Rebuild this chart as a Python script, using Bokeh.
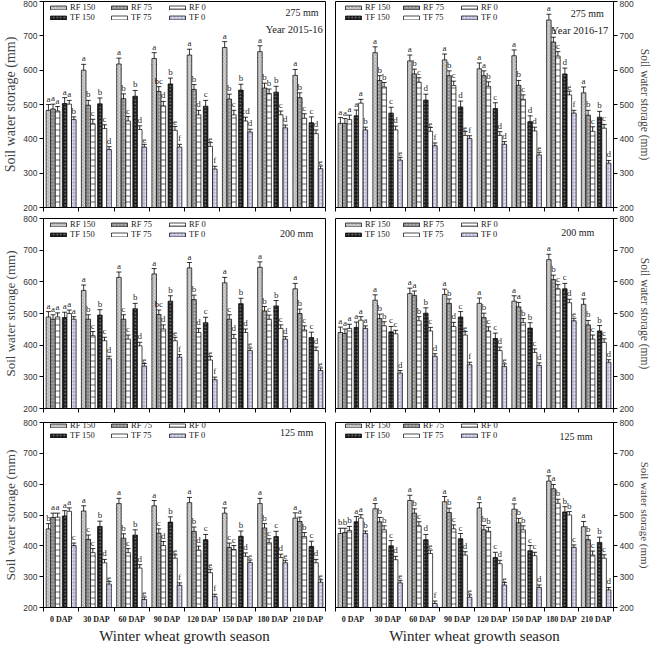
import numpy as np
from bokeh.plotting import figure
from bokeh.models import (ColumnDataSource, Range1d, FixedTicker, Whisker, TeeHead,
                          Legend, LegendItem, Label, LabelSet)
from bokeh.layouts import column, row
from bokeh.transform import dodge
from bokeh.embed import file_html
from bokeh.resources import INLINE

# ---------------- data ----------------
dap = ["0 DAP", "30 DAP", "60 DAP", "90 DAP", "120 DAP", "150 DAP", "180 DAP", "210 DAP"]
series = ["RF 150", "RF 75", "RF 0", "TF 150", "TF 75", "TF 0"]
err = [17, 14, 13, 17, 11, 8]          # typical standard error per treatment (mm)

# rows = growth stage, columns = treatments (RF150, RF75, RF0, TF150, TF75, TF0)
swc_275_1516 = [[483, 487, 481, 503, 501, 456],
                [600, 498, 444, 502, 430, 369],
                [618, 517, 452, 524, 427, 376],
                [634, 538, 496, 560, 425, 376],
                [644, 544, 470, 495, 378, 312],
                [666, 516, 470, 542, 452, 420],
                [654, 548, 532, 536, 470, 432],
                [585, 520, 460, 447, 415, 313]]
let_275_1516 = ["a a a a a b", "a b c b c d", "a b c b d e", "a bc d b e f",
                "a b d c e f", "a b c b cd d", "a b b b c d", "a b c c d e"]

swc_275_1617 = [[445, 445, 456, 467, 504, 426],
                [651, 570, 551, 475, 426, 338],
                [627, 589, 565, 513, 422, 380],
                [630, 584, 555, 493, 410, 401],
                [604, 584, 553, 488, 410, 384],
                [642, 556, 515, 450, 423, 353],
                [746, 682, 641, 589, 528, 475],
                [534, 469, 422, 463, 431, 329]]
let_275_1617 = ["a a a a a b", "a b b c d e", "a b c d e f", "a b c d e f",
                "a a b c d d", "a b c d d e", "a b c d e f", "a b c b c d"]

swc_200_1516 = [[489, 482, 489, 487, 500, 482],
                [573, 482, 430, 495, 414, 357],
                [614, 482, 419, 515, 398, 334],
                [625, 497, 451, 539, 414, 362],
                [644, 544, 440, 471, 353, 291],
                [597, 482, 421, 531, 440, 383],
                [646, 508, 482, 524, 453, 419],
                [578, 500, 448, 424, 383, 320]]
let_200_1516 = ["a a a a a a", "a b c b c d", "a c c b d e", "a bc d b e f",
                "a b d c e f", "a c d b d e", "a b c b c d", "a b c c d e"]

swc_200_1617 = [[440, 437, 453, 456, 479, 453],
                [542, 484, 461, 442, 436, 312],
                [563, 557, 477, 501, 445, 365],
                [560, 532, 459, 489, 432, 338],
                [532, 487, 445, 421, 383, 333],
                [539, 521, 471, 454, 377, 336],
                [670, 607, 578, 578, 534, 477],
                [529, 464, 419, 445, 409, 346]]
let_200_1617 = ["a a a a a a", "a b b c c d", "a a b b c d", "a b d c e f",
                "a b c c d e", "a a b b c d", "a b c c d e", "a b c b c d"]

swc_125_1516 = [[455, 492, 493, 497, 512, 401],
                [513, 421, 378, 463, 345, 276],
                [537, 425, 378, 435, 328, 226],
                [530, 441, 401, 477, 360, 272],
                [540, 447, 386, 420, 313, 235],
                [506, 395, 388, 431, 366, 346],
                [537, 458, 410, 430, 362, 345],
                [490, 479, 430, 398, 345, 282]]
let_125_1516 = ["b a a a a c", "a c c b d e", "a b c b d e", "a c d b e f",
                "a b d c e f", "a c c b d e", "a b c c d e", "a a b c d e"]

swc_125_1617 = [[440, 443, 450, 478, 490, 440],
                [520, 478, 452, 400, 355, 280],
                [547, 506, 465, 420, 375, 213],
                [543, 508, 455, 423, 370, 233],
                [523, 452, 447, 362, 342, 273],
                [519, 475, 452, 384, 368, 265],
                [610, 585, 538, 510, 500, 395],
                [462, 420, 370, 411, 360, 257]]
let_125_1617 = ["b b b a a b", "a b b c d e", "a b c d e f", "a b c c d e",
                "a b b c d e", "a b b c c d", "a a b b b c", "a b c b c d"]

yticks = [200, 300, 400, 500, 600, 700, 800]

# ---------------- styling ----------------
SERIF = "Liberation Serif"
SANS = "Liberation Sans"
INK = "#000000"
offsets = [-0.36, -0.23, -0.10, 0.10, 0.23, 0.36]
BAR_W = 0.13
styles = [
    dict(fill_color="#d6d6d6", hatch_pattern="diagonal_cross", hatch_color="#8c8c8c", hatch_scale=3.5, hatch_weight=0.6),
    dict(fill_color="#8a8a8a", hatch_pattern="dot", hatch_color="#cfcfcf", hatch_scale=3.5, hatch_weight=0.7),
    dict(fill_color="#ffffff", hatch_pattern="horizontal_line", hatch_color="#222222", hatch_scale=6, hatch_weight=0.7),
    dict(fill_color="#1c1c1c", hatch_pattern="dot", hatch_color="#8c8c8c", hatch_scale=3.5, hatch_weight=0.7),
    dict(fill_color="#ffffff"),
    dict(fill_color="#b9b9d9", hatch_pattern="dot", hatch_color="#ffffff", hatch_scale=3.5, hatch_weight=0.7),
]
LEG_X_LEFT = [5, 66, 124]
LEG_X_RIGHT = [8, 66, 124]
LEG_H = 20


def make_panel(vals, lets, mm_txt, mm_pos, year_txt, year_pos, side, bottom, width, height,
               borders, ylab_size):
    vals = np.array(vals, dtype=float)
    letters = [s.split(" ") for s in lets]
    p = figure(width=width, height=height, x_range=Range1d(0, 8), y_range=Range1d(200, 800),
               output_backend="svg", toolbar_location=None, y_axis_location=side,
               min_border_left=borders[0], min_border_right=borders[1],
               min_border_top=borders[2], min_border_bottom=borders[3])
    frame_h = height - borders[2] - borders[3]
    p.grid.visible = False
    p.outline_line_color = "black"
    p.outline_line_width = 1
    p.background_fill_color = "white"
    p.border_fill_color = "white"

    xc = np.arange(len(dap)) + 0.5
    rends = []
    for i, s in enumerate(series):
        top = vals[:, i]
        src = ColumnDataSource(dict(x=xc, top=top, upper=top + err[i], lower=top - err[i],
                                    lab=[letters[g][i] for g in range(len(dap))]))
        xs = dodge("x", offsets[i], range=p.x_range)
        r = p.vbar(x=xs, top="top", bottom=200, width=BAR_W, source=src,
                   line_color="black", line_width=0.7, **styles[i])
        w = Whisker(base=xs, upper="upper", lower="lower", source=src, dimension="height",
                    line_color="black", line_width=0.8,
                    upper_head=TeeHead(size=5, line_color="black", line_width=0.8),
                    lower_head=TeeHead(size=5, line_color="black", line_width=0.8))
        p.add_layout(w)
        p.add_layout(LabelSet(x=xs, y="upper", text="lab", source=src, text_align="center",
                              text_baseline="bottom", y_offset=1, text_font=SERIF,
                              text_font_size="9px", text_color=INK, text_alpha=0.9))
        rends.append(r)

    legx = LEG_X_LEFT if side == "left" else LEG_X_RIGHT
    for c in range(3):
        leg = Legend(items=[LegendItem(label=series[c], renderers=[rends[c]]),
                            LegendItem(label=series[c + 3], renderers=[rends[c + 3]])],
                     location=(legx[c], frame_h - 1 - LEG_H), orientation="vertical",
                     glyph_width=20, glyph_height=5, label_height=9, label_width=20,
                     label_standoff=2, spacing=0, padding=0, margin=0,
                     label_text_font=SERIF, label_text_font_size="8.5px", label_text_color="#1a1a1a",
                     background_fill_alpha=0, border_line_alpha=0)
        p.add_layout(leg)

    p.add_layout(Label(x=mm_pos[0], y=mm_pos[1], text=mm_txt, text_align="right",
                       text_baseline="middle", text_font=SERIF, text_font_size="10px",
                       text_color="#1a1a1a"))
    if year_txt:
        p.add_layout(Label(x=year_pos[0], y=year_pos[1], text=year_txt, text_align="right",
                           text_baseline="middle", text_font=SERIF, text_font_size="10.5px",
                           text_color="#1a1a1a"))

    # y axis
    ya = p.yaxis[0]
    ya.ticker = FixedTicker(ticks=yticks, minor_ticks=[])
    ya.major_tick_out = 4
    ya.major_tick_in = 0
    ya.major_label_standoff = 2
    ya.major_label_text_font = SANS
    ya.major_label_text_font_size = "8.5px"
    ya.major_label_text_color = "#333333"
    ya.axis_label = "Soil water storage (mm)"
    ya.axis_label_text_font = SERIF
    ya.axis_label_text_font_style = "normal"
    ya.axis_label_text_font_size = ylab_size
    ya.axis_label_text_color = "#444444"
    ya.axis_label_standoff = 2
    ya.axis_line_color = "black"

    # x axis: ticks at stage boundaries, labels at stage centres
    xa = p.xaxis[0]
    xa.major_tick_out = 0
    xa.major_tick_in = 0
    xa.minor_tick_out = 4
    xa.minor_tick_in = 0
    xa.axis_line_color = "black"
    bounds = list(range(len(dap) + 1))
    if bottom:
        centres = [float(v) for v in xc]
        xa.ticker = FixedTicker(ticks=centres, minor_ticks=bounds)
        xa.major_label_overrides = {v: lab for v, lab in zip(centres, dap)}
        xa.major_label_standoff = 3
        xa.major_label_text_font = SERIF
        xa.major_label_text_font_style = "bold"
        xa.major_label_text_font_size = "8px"
        xa.major_label_text_color = "#222222"
        xa.axis_label = "Winter wheat growth season"
        xa.axis_label_text_font = SERIF
        xa.axis_label_text_font_style = "normal"
        xa.axis_label_text_font_size = "15px"
        xa.axis_label_text_color = "#222222"
        xa.axis_label_standoff = 1
    else:
        xa.ticker = FixedTicker(ticks=[], minor_ticks=bounds)
        xa.major_label_standoff = 0
        xa.major_label_text_font_size = "1px"
        xa.axis_label_standoff = 0
        xa.axis_label_text_font_size = "1px"
    return p


LW, RW = 331, 322
H1, H2, H3 = 213, 201, 232

p11 = make_panel(swc_275_1516, let_275_1516, "275 mm", (7.8, 769), "Year 2015-16", (7.92, 718),
                 "left", False, LW, H1, (37, 6, 1, 6), "14px")
p12 = make_panel(swc_275_1617, let_275_1617, "275 mm", (7.72, 766), "Year 2016-17", (7.85, 715),
                 "right", False, RW, H1, (4, 36, 1, 6), "11.5px")
p21 = make_panel(swc_200_1516, let_200_1516, "200 mm", (7.65, 754), None, None,
                 "left", False, LW, H2, (37, 6, 5, 6), "13px")
p22 = make_panel(swc_200_1617, let_200_1617, "200 mm", (7.45, 756), None, None,
                 "right", False, RW, H2, (4, 36, 5, 6), "11.5px")
p31 = make_panel(swc_125_1516, let_125_1516, "125 mm", (7.65, 766), None, None,
                 "left", True, LW, H3, (37, 6, 8, 36), "13.5px")
p32 = make_panel(swc_125_1617, let_125_1617, "125 mm", (7.4, 753), None, None,
                 "right", True, RW, H3, (4, 36, 8, 36), "11px")

layout = column(row(p11, p12, spacing=0), row(p21, p22, spacing=0), row(p31, p32, spacing=0), spacing=0)

with open("out.html", "w") as f:
    f.write(file_html(layout, INLINE))
